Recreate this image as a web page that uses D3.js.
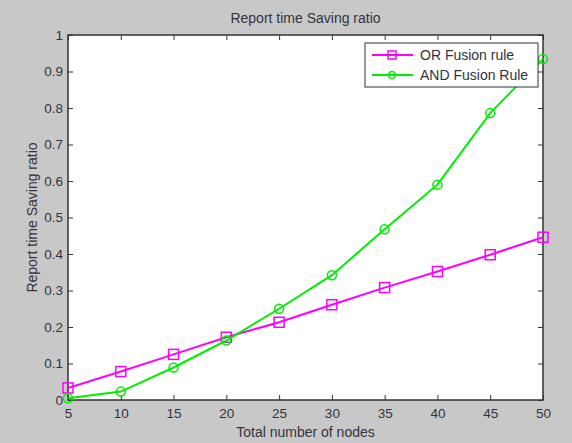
<!DOCTYPE html>
<html>
<head>
<meta charset="utf-8">
<script src="https://cdn.jsdelivr.net/npm/d3@7"></script>
<style>
	body { margin: 0; background: #c8c8c8; }
	svg { display: block; font-family: "Liberation Sans", Arial, sans-serif; }
</style>
</head>
<body>
<div id="chart"></div>
<script>
//////////////////////////// data /////////////////////////////////////////

const nodes = [5, 10, 15, 20, 25, 30, 35, 40, 45, 50];
const orRule = [0.033, 0.078, 0.125, 0.172, 0.213, 0.261, 0.308, 0.352, 0.398, 0.446];
const andRule = [0.005, 0.023, 0.089, 0.163, 0.25, 0.342, 0.468, 0.59, 0.786, 0.934];
const yTicks = [0, 0.1, 0.2, 0.3, 0.4, 0.5, 0.6, 0.7, 0.8, 0.9, 1];
const seriesNames = ["OR Fusion rule", "AND Fusion Rule"];

//////////////////////////// sizes ////////////////////////////////////////

const dimensions = {
	width: 572,
	height: 443,
	margin: { top: 35, right: 29, bottom: 43, left: 68 }
};
dimensions.boundedWidth = dimensions.width - dimensions.margin.left - dimensions.margin.right;
dimensions.boundedHeight = dimensions.height - dimensions.margin.top - dimensions.margin.bottom;

const svg = d3.select("#chart").append("svg")
	.attr("width", dimensions.width)
	.attr("height", dimensions.height);

svg.append("rect")
	.attr("width", dimensions.width).attr("height", dimensions.height)
	.attr("fill", "#c8c8c8");

const bounds = svg.append("g")
	.attr("transform", `translate(${dimensions.margin.left},${dimensions.margin.top})`);

bounds.append("rect")
	.attr("width", dimensions.boundedWidth)
	.attr("height", dimensions.boundedHeight)
	.attr("fill", "#fff");

//////////////////////////// scales ///////////////////////////////////////

const xScale = d3.scaleLinear().domain([5, 50]).range([0, dimensions.boundedWidth]);
const yScale = d3.scaleLinear().domain([0, 1]).range([dimensions.boundedHeight, 0]);

//////////////////////////// axes /////////////////////////////////////////

const textColor = "#333340";

const styleAxis = (g) => {
	g.select(".domain").remove();
	g.selectAll(".tick line").attr("stroke", "#333");
	g.selectAll(".tick text").attr("fill", textColor).attr("font-size", 13.5);
};

bounds.append("g")
	.attr("transform", `translate(0,${dimensions.boundedHeight})`)
	.call(d3.axisBottom(xScale).tickValues(nodes).tickSize(-5).tickPadding(8))
	.call(styleAxis);
bounds.append("g")
	.call(d3.axisTop(xScale).tickValues(nodes).tickSize(-5).tickFormat(""))
	.call(styleAxis);
bounds.append("g")
	.call(d3.axisLeft(yScale).tickValues(yTicks).tickSize(-5).tickPadding(5).tickFormat(d3.format("~g")))
	.call(styleAxis);
bounds.append("g")
	.attr("transform", `translate(${dimensions.boundedWidth},0)`)
	.call(d3.axisRight(yScale).tickValues(yTicks).tickSize(-5).tickFormat(""))
	.call(styleAxis);

bounds.append("rect")
	.attr("width", dimensions.boundedWidth)
	.attr("height", dimensions.boundedHeight)
	.attr("fill", "none")
	.attr("stroke", "#333")
	.attr("stroke-width", 1.5);

//////////////////////////// lines ////////////////////////////////////////

const line = d3.line()
	.x((d, i) => xScale(nodes[i]))
	.y((d) => yScale(d));

const drawSquare = (g, color, s) => {
	g.append("rect").attr("x", -s).attr("y", -s).attr("width", 2 * s).attr("height", 2 * s)
		.attr("fill", "none").attr("stroke", color).attr("stroke-width", 1.5);
};
const drawCircle = (g, color, s) => {
	g.append("circle").attr("r", s - 0.5)
		.attr("fill", "none").attr("stroke", color).attr("stroke-width", 1.5);
};

const series = [
	{ name: seriesNames[0], values: orRule, color: "#ff00ff", marker: drawSquare },
	{ name: seriesNames[1], values: andRule, color: "#00ee00", marker: drawCircle }
];

series.forEach((s) => {
	bounds.append("path")
		.datum(s.values)
		.attr("d", line)
		.attr("fill", "none")
		.attr("stroke", s.color)
		.attr("stroke-width", 2);

	bounds.selectAll(null)
		.data(s.values)
		.enter()
		.append("g")
		.attr("transform", (d, i) => `translate(${xScale(nodes[i])},${yScale(d)})`)
		.each(function () { s.marker(d3.select(this), s.color, 5); });
});

//////////////////////////// legend ///////////////////////////////////////

const legend = svg.append("g").attr("transform", "translate(365,43)");
legend.append("rect")
	.attr("width", 173).attr("height", 44)
	.attr("fill", "#fff").attr("stroke", "#333").attr("stroke-width", 1);

series.forEach((s, i) => {
	const row = legend.append("g").attr("transform", `translate(0,${12 + i * 20})`);
	row.append("line").attr("x1", 7).attr("x2", 48)
		.attr("stroke", s.color).attr("stroke-width", 2);
	const m = row.append("g").attr("transform", "translate(27,0)");
	s.marker(m, s.color, 4);
	row.append("text").attr("x", 55).attr("y", 5)
		.attr("font-size", 14).attr("fill", textColor)
		.text(s.name);
});

//////////////////////////// labels ///////////////////////////////////////

svg.append("text")
	.attr("x", dimensions.margin.left + dimensions.boundedWidth / 2)
	.attr("y", 23)
	.attr("text-anchor", "middle").attr("font-size", 14).attr("fill", textColor)
	.text("Report time Saving ratio");

svg.append("text")
	.attr("x", dimensions.margin.left + dimensions.boundedWidth / 2)
	.attr("y", 437)
	.attr("text-anchor", "middle").attr("font-size", 14).attr("fill", textColor)
	.text("Total number of nodes");

svg.append("text")
	.attr("transform", `translate(37,${dimensions.margin.top + dimensions.boundedHeight / 2}) rotate(-90)`)
	.attr("text-anchor", "middle").attr("font-size", 14).attr("fill", textColor)
	.text("Report time Saving ratio");
</script>
</body>
</html>
